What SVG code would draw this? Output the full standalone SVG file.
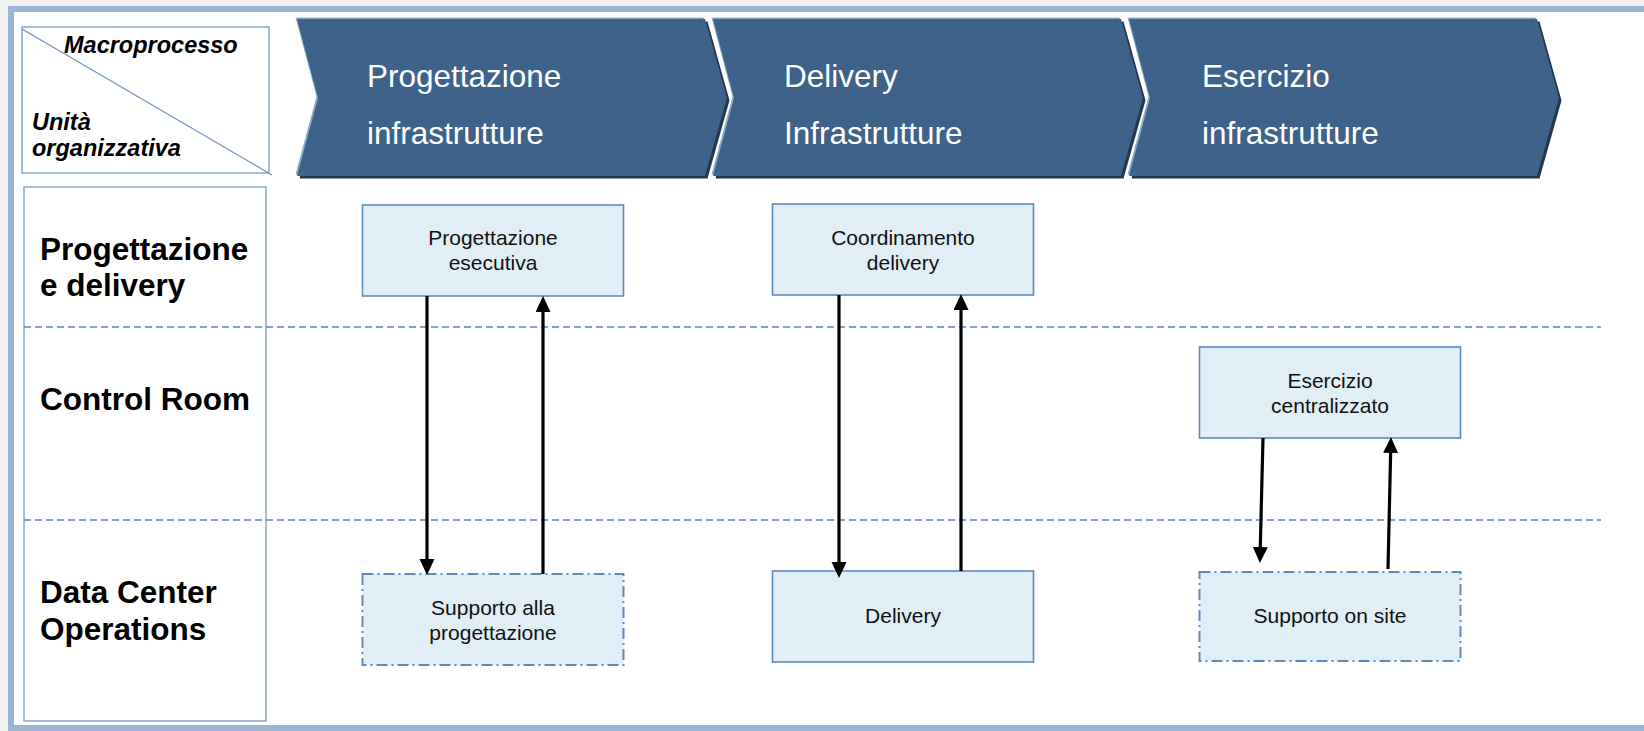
<svg xmlns="http://www.w3.org/2000/svg" width="1644" height="731" viewBox="0 0 1644 731">
  <defs>
    <style>
      .hdr { font-family: "Liberation Sans", Arial, sans-serif; font-size: 23.5px; font-weight: bold; font-style: italic; fill: #000; }
      .row { font-family: "Liberation Sans", Arial, sans-serif; font-size: 31.5px; font-weight: bold; fill: #000; }
      .chev { fill: #3e6289; }
      .chevsh { fill: #23374e; }
      .chevhl { fill: #8ea8c8; }
      .chevtxt { font-family: "Liberation Sans", Arial, sans-serif; font-size: 31.5px; fill: #ffffff; }
      .node { fill: #e1eef5; stroke: #5e8bbb; stroke-width: 1.6; }
      .nodedd { fill: #e1eef5; stroke: #5e8bbb; stroke-width: 2; stroke-dasharray: 11 4 2 4; }
      .ntxt { font-family: "Liberation Sans", Arial, sans-serif; font-size: 21px; fill: #111; text-anchor: middle; }
      .sep { stroke: #5b87b8; stroke-width: 1.5; stroke-dasharray: 7 4; fill: none; }
      .thin { stroke: #6a90c2; stroke-width: 1.2; fill: none; }
      .arr { stroke: #000; stroke-width: 3.2; fill: none; marker-end: url(#ah); }
    </style>
    <marker id="ah" markerUnits="userSpaceOnUse" markerWidth="18" markerHeight="16" refX="8" refY="7.5" orient="auto">
      <path d="M0,0 L16,7.5 L0,15 z" fill="#000"/>
    </marker>
    <path id="chevshape" d="M0,0 L408,0 L430,79 L408,157 L0,157 L21,79 z"/>
  </defs>

  <rect x="0" y="0" width="1644" height="731" fill="#f1f1f1"/>
  <rect x="11" y="9" width="1640" height="719" fill="#ffffff" stroke="#9bb5d5" stroke-width="6"/>

  <g id="header-cell">
    <rect class="thin" x="22" y="27" width="247" height="146"/>
    <line class="thin" x1="22" y1="29" x2="272" y2="175"/>
    <text class="hdr" x="64" y="53">Macroprocesso</text>
    <text class="hdr" x="32" y="130">Unità</text>
    <text class="hdr" x="32" y="156">organizzativa</text>
  </g>

  <g id="row-labels">
    <rect class="thin" x="24" y="187" width="242" height="534"/>
    <text class="row" x="40" y="260">Progettazione</text>
    <text class="row" x="40" y="296">e delivery</text>
    <text class="row" x="40" y="410">Control Room</text>
    <text class="row" x="40" y="603">Data Center</text>
    <text class="row" x="40" y="640">Operations</text>
  </g>

  <g id="separators">
    <line class="sep" x1="24" y1="327" x2="1601" y2="327"/>
    <line class="sep" x1="24" y1="520" x2="1601" y2="520"/>
  </g>

  <g id="chevron-progettazione">
    <use href="#chevshape" class="chevhl" x="295.5" y="17.5"/>
    <use href="#chevshape" class="chevsh" x="299.5" y="21.5"/>
    <use href="#chevshape" class="chev" x="297" y="19"/>
    <text class="chevtxt" x="367" y="87">Progettazione</text>
    <text class="chevtxt" x="367" y="144">infrastrutture</text>
  </g>
  <g id="chevron-delivery">
    <use href="#chevshape" class="chevhl" x="711.5" y="17.5"/>
    <use href="#chevshape" class="chevsh" x="715.5" y="21.5"/>
    <use href="#chevshape" class="chev" x="713" y="19"/>
    <text class="chevtxt" x="784" y="87">Delivery</text>
    <text class="chevtxt" x="784" y="144">Infrastrutture</text>
  </g>
  <g id="chevron-esercizio">
    <use href="#chevshape" class="chevhl" x="1127.5" y="17.5"/>
    <use href="#chevshape" class="chevsh" x="1131.5" y="21.5"/>
    <use href="#chevshape" class="chev" x="1129" y="19"/>
    <text class="chevtxt" x="1202" y="87">Esercizio</text>
    <text class="chevtxt" x="1202" y="144">infrastrutture</text>
  </g>

  <g id="node-progettazione-esecutiva">
    <rect class="node" x="362.5" y="205" width="261" height="91"/>
    <text class="ntxt" x="493" y="245">Progettazione</text>
    <text class="ntxt" x="493" y="270">esecutiva</text>
  </g>
  <g id="node-coordinamento-delivery">
    <rect class="node" x="772.5" y="204" width="261" height="91"/>
    <text class="ntxt" x="903" y="245">Coordinamento</text>
    <text class="ntxt" x="903" y="270">delivery</text>
  </g>
  <g id="node-esercizio-centralizzato">
    <rect class="node" x="1199.5" y="347" width="261" height="91"/>
    <text class="ntxt" x="1330" y="388">Esercizio</text>
    <text class="ntxt" x="1330" y="413">centralizzato</text>
  </g>
  <g id="node-supporto-progettazione">
    <rect class="nodedd" x="362.5" y="574" width="261" height="91"/>
    <text class="ntxt" x="493" y="615">Supporto alla</text>
    <text class="ntxt" x="493" y="640">progettazione</text>
  </g>
  <g id="node-delivery">
    <rect class="node" x="772.5" y="571" width="261" height="91"/>
    <text class="ntxt" x="903" y="623">Delivery</text>
  </g>
  <g id="node-supporto-on-site">
    <rect class="nodedd" x="1199.5" y="572" width="261" height="89"/>
    <text class="ntxt" x="1330" y="623">Supporto on site</text>
  </g>

  <g id="connectors">
    <path class="arr" d="M427,296 L427,567"/>
    <path class="arr" d="M543,574 L543,304"/>
    <path class="arr" d="M839,295 L839,570"/>
    <path class="arr" d="M961,571 L961,302"/>
    <path class="arr" d="M1263,438 L1260.1,555"/>
    <path class="arr" d="M1388,569 L1390.8,445"/>
  </g>
</svg>
